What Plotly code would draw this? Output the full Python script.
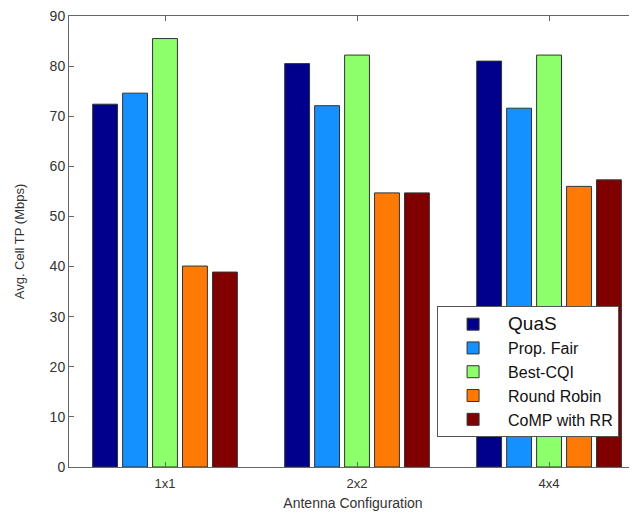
import plotly.graph_objects as go

categories = ["1x1", "2x2", "4x4"]
series_names = ["QuaS", "Prop. Fair", "Best-CQI", "Round Robin", "CoMP with RR"]
quas = [72.4, 80.5, 81.0]
prop_fair = [74.6, 72.1, 71.6]
best_cqi = [85.5, 82.2, 82.2]
round_robin = [40.1, 54.7, 56.0]
comp_rr = [38.9, 54.7, 57.3]
y_ticks = [0, 10, 20, 30, 40, 50, 60, 70, 80, 90]

colors = ["#00008C", "#1590FF", "#8DFF6B", "#FF7A05", "#800000"]
values = [quas, prop_fair, best_cqi, round_robin, comp_rr]

fig = go.Figure()
x_pos = [1, 2, 3]
for i, (name, vals, col) in enumerate(zip(series_names, values, colors)):
    label = name if name != "QuaS" else "<span style='font-size:19px'>QuaS</span>"
    fig.add_trace(go.Bar(x=x_pos, y=vals, name=label, legendgroup=f"g{i}",
                         marker=dict(color=col, line=dict(color="#333333", width=1))))

# page body has an 8px margin; compensate so plot area sits at x 69..637, y 14..467
fig.update_layout(
    width=629, height=505,
    margin=dict(l=61, r=0, t=6, b=46),
    paper_bgcolor="white", plot_bgcolor="white",
    barmode="group", bargap=0.22, bargroupgap=0.17,
    font=dict(family="Liberation Sans, Arial, sans-serif", size=13, color="#333333"),
    showlegend=True,
    legend=dict(x=0.648, y=0.066, xanchor="left", yanchor="bottom",
                bgcolor="white", bordercolor="#555555", borderwidth=1,
                font=dict(size=16, color="#111111"), tracegroupgap=0,
                itemwidth=60),
)
fig.update_xaxes(range=[0.5, 3.458], tickvals=x_pos, ticktext=categories,
                 showline=True, linecolor="#666666", linewidth=1, mirror="ticks",
                 ticks="inside", ticklen=5, tickcolor="#666666",
                 showgrid=False, zeroline=False, ticklabelstandoff=4,
                 title=dict(text="Antenna Configuration", standoff=8, font=dict(size=14)))
fig.update_yaxes(range=[0, 90], tickvals=y_ticks,
                 showline=True, linecolor="#666666", linewidth=1,
                 ticks="inside", ticklen=5, tickcolor="#666666",
                 showgrid=False, zeroline=False, tickfont=dict(size=14),
                 ticklabeloverflow="allow",
                 title=dict(text="Avg. Cell TP (Mbps)", standoff=22, font=dict(size=13)))

fig.write_html("out.html")
